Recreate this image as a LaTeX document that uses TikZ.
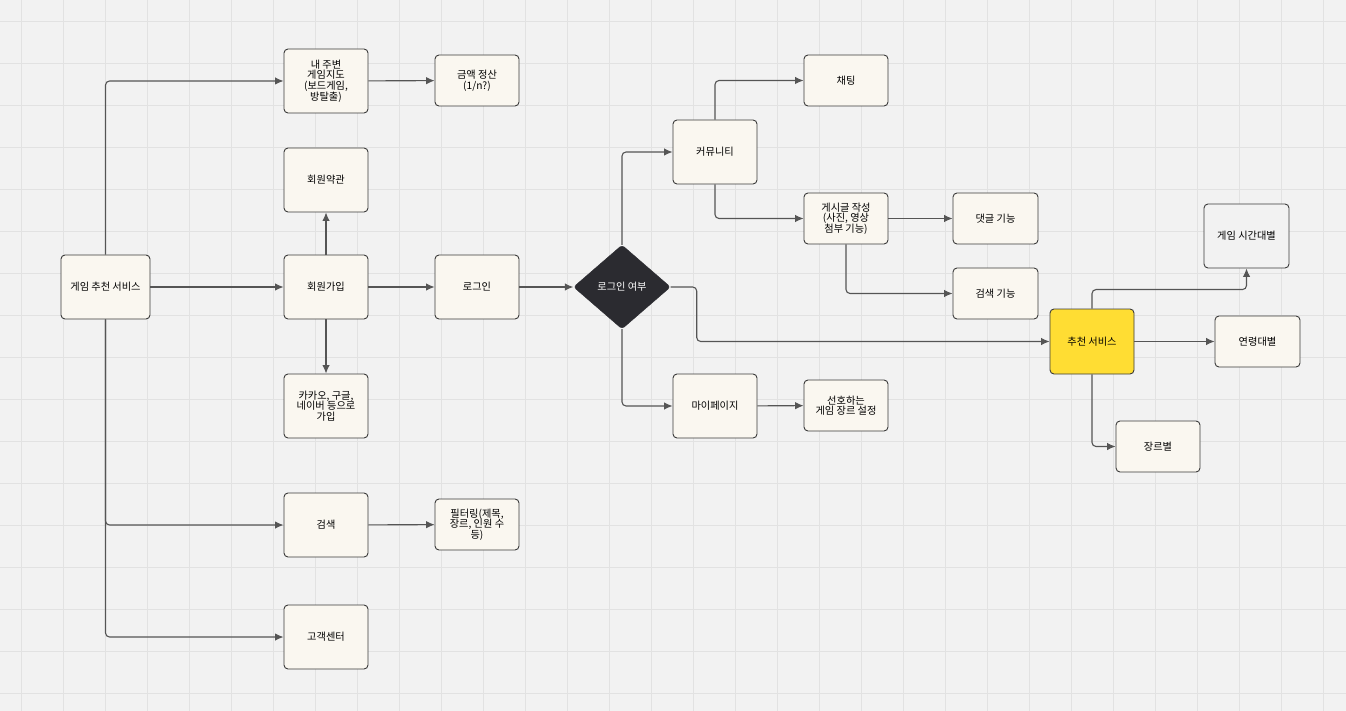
\documentclass[tikz,border=0pt]{standalone}
\usepackage{fontspec}
\setmainfont{Noto Sans CJK KR}
\usepackage{xcolor}
\usepackage{tikz}
\usetikzlibrary{arrows.meta}
\usetikzlibrary{positioning, shapes.geometric, calc}
\definecolor{boardbg}{HTML}{F2F2F2}
\definecolor{gridgray}{HTML}{E2E2E2}
\definecolor{boxfill}{HTML}{FAF7F0}
\definecolor{boxline}{HTML}{3A3A3A}
\definecolor{wire}{HTML}{555555}
\definecolor{recyellow}{HTML}{FFDD33}
\definecolor{darkdiamond}{HTML}{2B2B30}
\tikzstyle{block} = [style=draw, draw=boxline, fill=boxfill,
	rounded corners=4pt, line width=0.9pt,
	minimum width = 84pt,
	minimum height = 64pt,
	inner sep=2pt, align=center,
	font=\fontsize{10.2}{10.6}\selectfont]
\tikzstyle{flat} = [block, minimum height = 51pt]
\tikzstyle{decision} = [diamond, fill=darkdiamond, draw=darkdiamond,
	rounded corners=3pt, text=white, inner sep=0pt,
	minimum width = 97pt, minimum height = 84pt,
	font=\fontsize{10.2}{10.6}\selectfont]
\tikzstyle{arrow} =[-{Latex[length=8.5pt, width=7.5pt]}, line width=1.1pt, draw=wire, rounded corners=4pt]
\tikzstyle{gridline} = [draw=gridgray, line width=0.8pt]

\begin{document}
\begin{tikzpicture}[x=1pt, y=-1pt]
			\fill[boardbg] (0,0) rectangle (1346,711);
			\useasboundingbox (0,0) rectangle (1346,711);
			\foreach \gx in {21,63,...,1345} \draw[gridline] (\gx,0) -- (\gx,711);
			\foreach \gy in {21,63,...,710} \draw[gridline] (0,\gy) -- (1346,\gy);
			
			% left column
			\node (svc) [block, minimum width=89pt] at (105.5,287) {게임 추천 서비스};
			\node (nearby) [block] at (326,81) {내 주변\\게임지도\\(보드게임,\\방탈출)};
			\node (settle) [flat] at (477,80.5) {금액 정산\\(1/n?)};
			\node (terms) [block] at (326,180) {회원약관};
			\node (join) [block] at (326,287) {회원가입};
			\node (social) [block] at (326,406) {카카오, 구글,\\네이버 등으로\\가입};
			\node (search) [block] at (326,525) {검색};
			\node (filter) [flat] at (477,524.5) {필터링(제목,\\장르, 인원 수\\등)};
			\node (support) [block] at (326,637) {고객센터};
			\node (login) [block] at (477,287) {로그인};
			
			\draw [arrow] (svc.north) |- (nearby.west);
			\draw [arrow] (svc.east) -- (join.west);
			\draw [arrow] (svc.south) |- (search.west);
			\draw [arrow] (svc.south) |- (support.west);
			\draw [arrow] (nearby) -- (settle);
			\draw [arrow] (join) -- (terms);
			\draw [arrow] (join) -- (social);
			\draw [arrow] (join) -- (login);
			\draw [arrow] (search) -- (filter);
			
			% after login
			\node (check) [decision] at (622,287) {로그인 여부};
			\node (community) [block] at (715,152) {커뮤니티};
			\node (chat) [flat] at (846,80.5) {채팅};
			\node (post) [flat] at (846,218.5) {게시글 작성\\(사진, 영상\\첨부 기능)};
			\node (comment) [flat, minimum width=85pt] at (995.5,218.5) {댓글 기능};
			\node (postsearch) [flat, minimum width=85pt] at (995.5,293.5) {검색 기능};
			\node (mypage) [block] at (715,406) {마이페이지};
			\node (prefer) [flat] at (846,405.5) {선호하는\\게임 장르 설정};
			
			\draw [arrow] (login) -- (check);
			\draw [arrow] (check.north) |- (community.west);
			\draw [arrow] (check.south) |- (mypage.west);
			\draw [arrow] (community.north) |- (chat.west);
			\draw [arrow] (community.south) |- (post.west);
			\draw [arrow] (post) -- (comment);
			\draw [arrow] (post.south) |- (postsearch.west);
			\draw [arrow] (mypage) -- (prefer);
			
			% recommendation
			\node (rec) [block, fill=recyellow, minimum height=65pt] at (1092,341.5) {추천 서비스};
			\node (bytime) [block, minimum width=85pt, fill=boardbg] at (1246.5,236) {게임 시간대별};
			\node (byage) [flat, minimum width=85pt] at (1257.5,341.5) {연령대별};
			\node (bygenre) [flat] at (1158,446.5) {장르별};
			
			\draw [arrow] (check.east) -- ++(26,0) |- (rec.west);
			\draw [arrow] (rec.north) -- ++(0,-19) -| (bytime.south);
			\draw [arrow] (rec) -- (byage.west);
			\draw [arrow] (rec.south) |- (bygenre.west);
		\end{tikzpicture}
\end{document}
